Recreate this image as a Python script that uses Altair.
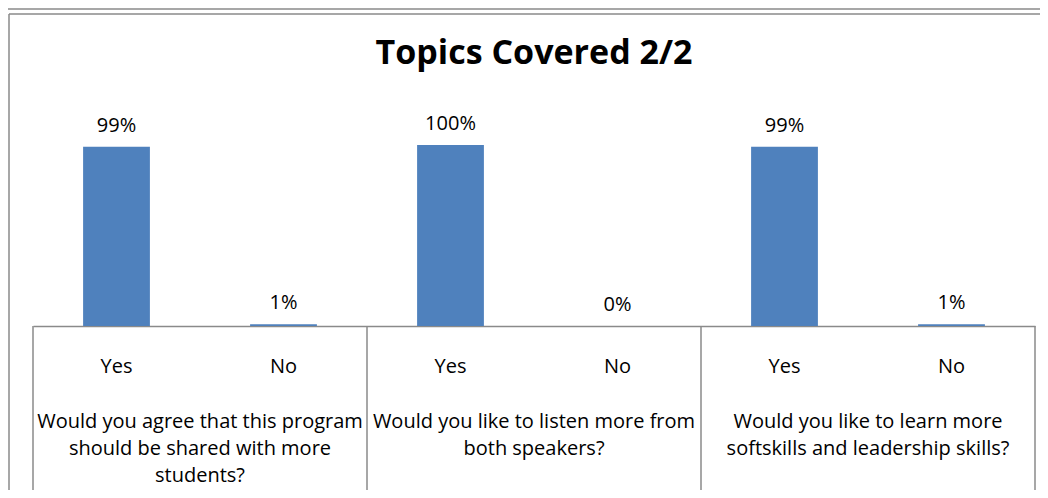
import altair as alt
import pandas as pd

# ---- data ----
questions = [
    "Would you agree that this program\nshould be shared with more\nstudents?",
    "Would you like to listen more from\nboth speakers?",
    "Would you like to learn more\nsoftskills and leadership skills?",
]
answers = ["Yes", "No"]
yes_values = [0.99, 1.00, 0.99]
no_values = [0.01, 0.00, 0.01]
title_text = "Topics Covered 2/2"

FONT = "Open Sans"
FS = 20
BLUE = "#4F81BD"
GRID = "#8a8a8a"

rows = []
slot_order = []
for qi, (yv, nv) in enumerate(zip(yes_values, no_values)):
    for ans, val in zip(answers, [yv, nv]):
        slot = f"{qi}|{ans}"
        slot_order.append(slot)
        rows.append({"slot": slot, "answer": ans, "value": val})
df = pd.DataFrame(rows)

df_sep = pd.DataFrame({"b": list(range(len(questions) + 1))})
df_q = pd.DataFrame({"c": [i + 0.5 for i in range(len(questions))], "q": questions})
one = pd.DataFrame({"k": [0]})

W, H = 1002, 181

x_band = alt.X(
    "slot:N",
    sort=slot_order,
    scale=alt.Scale(paddingInner=0.6, paddingOuter=0.3),
    axis=alt.Axis(
        title=None,
        labelExpr="split(datum.label, '|')[1]",
        labelAngle=0,
        labelFont=FONT,
        labelFontSize=FS,
        labelColor="black",
        labelBaseline="middle",
        labelPadding=40,
        ticks=False,
        tickSize=0,
        domainColor=GRID,
        domainWidth=1.5,
        grid=False,
    ),
)
y_val = alt.Y("value:Q", scale=alt.Scale(domain=[0, 1], nice=False), axis=None)

bars = alt.Chart(df).mark_bar(color=BLUE).encode(x=x_band, y=y_val)
labels = alt.Chart(df).mark_text(
    font=FONT, fontSize=FS, color="black", baseline="middle", dy=-21
).encode(x=x_band, y=y_val, text=alt.Text("value:Q", format=".0%"))
bar_layer = alt.layer(bars, labels)

x_lin_sep = alt.X("b:Q", scale=alt.Scale(domain=[0, 3], nice=False, zero=False), axis=None)
seps = alt.Chart(df_sep).mark_rule(color=GRID, strokeWidth=1.5).encode(
    x=x_lin_sep, y=alt.value(H), y2=alt.value(H + 200)
)
x_lin_q = alt.X("c:Q", scale=alt.Scale(domain=[0, 3], nice=False, zero=False), axis=None)
qtext = alt.Chart(df_q).mark_text(
    font=FONT, fontSize=FS, color="black", lineBreak="\n", lineHeight=27,
    align="center", baseline="alphabetic"
).encode(x=x_lin_q, y=alt.value(283), text="q:N")

frame_left = alt.Chart(one).mark_rule(color=GRID, strokeWidth=1.5).encode(
    x=alt.value(-24), y=alt.value(-131), y2=alt.value(H + 200)
)
frame_top = alt.Chart(one).mark_rule(color=GRID, strokeWidth=1.5).encode(
    x=alt.value(-24), x2=alt.value(W + 40), y=alt.value(-131)
)
outer_top = alt.Chart(one).mark_rule(color=GRID, strokeWidth=1.5).encode(
    x=alt.value(-30), x2=alt.value(W + 40), y=alt.value(-136)
)

chart = (
    alt.layer(outer_top, frame_top, frame_left, seps, qtext, bar_layer)
    .resolve_scale(x="independent")
    .properties(
        width=W,
        height=H,
        background="white",
        padding={"left": 25, "top": 137, "right": 5, "bottom": 164},
        autosize=alt.AutoSizeParams(type="none"),
        title=alt.TitleParams(
            title_text,
            anchor="middle",
            frame="group",
            font=FONT,
            fontSize=34,
            fontWeight="bold",
            color="black",
            baseline="middle",
            offset=-80,
        ),
    )
    .configure_view(stroke="transparent", strokeWidth=0)
)

chart.save("out.html", embed_options={"renderer": "svg", "actions": False})
